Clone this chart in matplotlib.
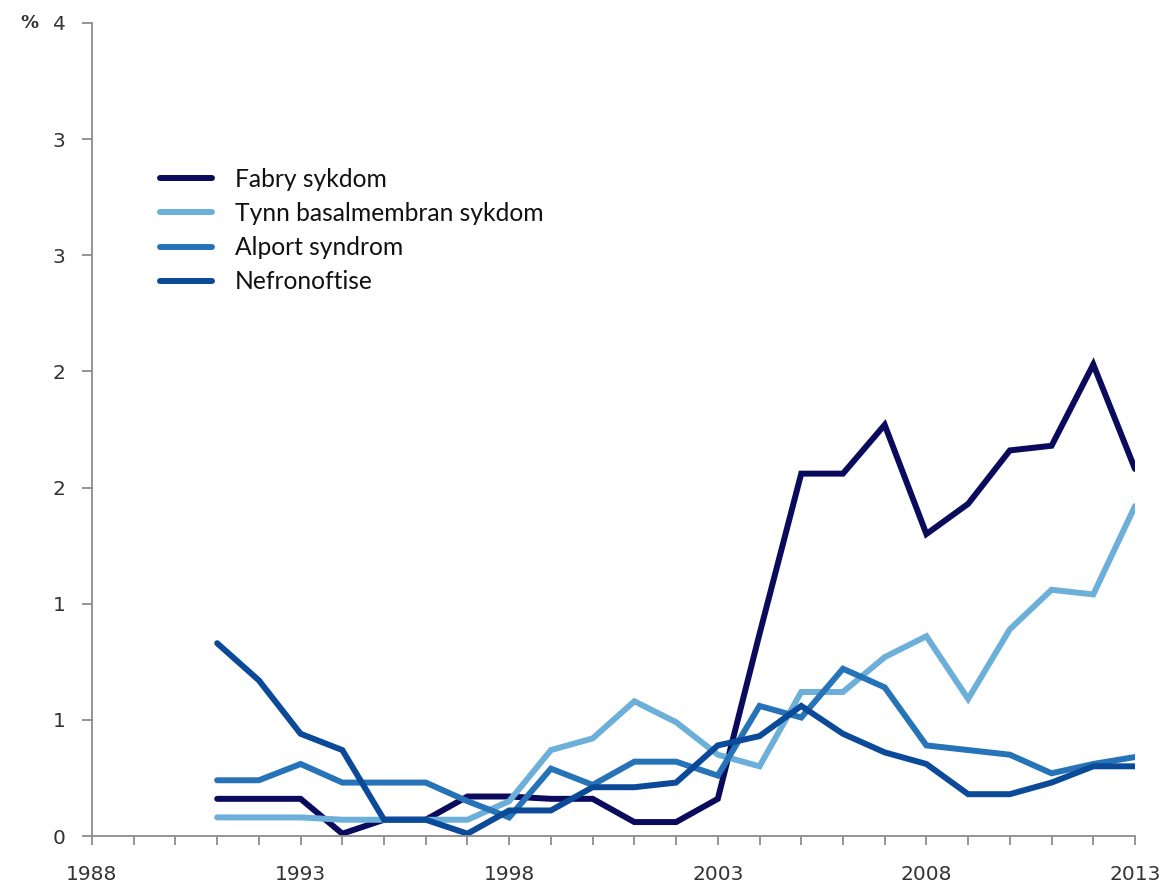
import matplotlib
matplotlib.use("Agg")
import matplotlib.pyplot as plt
from matplotlib.ticker import MultipleLocator

years = list(range(1991, 2014))

series_names = ["Fabry sykdom", "Tynn basalmembran sykdom", "Alport syndrom", "Nefronoftise"]

fabry = [0.16, 0.16, 0.16, 0.01, 0.07, 0.07, 0.17, 0.17, 0.16, 0.16, 0.06, 0.06,
         0.16, 0.87, 1.56, 1.56, 1.77, 1.30, 1.43, 1.66, 1.68, 2.03, 1.58]
tynn = [0.08, 0.08, 0.08, 0.07, 0.07, 0.07, 0.07, 0.15, 0.37, 0.42, 0.58, 0.49,
        0.35, 0.30, 0.62, 0.62, 0.77, 0.86, 0.59, 0.89, 1.06, 1.04, 1.42]
alport = [0.24, 0.24, 0.31, 0.23, 0.23, 0.23, 0.15, 0.08, 0.29, 0.22, 0.32, 0.32,
          0.26, 0.56, 0.51, 0.72, 0.64, 0.39, 0.37, 0.35, 0.27, 0.31, 0.34]
nefro = [0.83, 0.67, 0.44, 0.37, 0.07, 0.07, 0.01, 0.11, 0.11, 0.21, 0.21, 0.23,
         0.39, 0.43, 0.56, 0.44, 0.36, 0.31, 0.18, 0.18, 0.23, 0.30, 0.30]

colors = ["#0b0b5e", "#6cb0d9", "#2673b8", "#0b4a98"]

y_ticks = [0, 0.5, 1.0, 1.5, 2.0, 2.5, 3.0, 3.5]
y_ticklabels = ["0", "1", "1", "2", "2", "3", "3", "4"]
x_ticks = [1988, 1993, 1998, 2003, 2008, 2013]
x_ticklabels = ["1988", "1993", "1998", "2003", "2008", "2013"]

W, H = 1172, 886
fig = plt.figure(figsize=(W / 100, H / 100), dpi=100)
ax = fig.add_axes([92 / W, 1 - 836 / H, (1135 - 92) / W, (836 - 23) / H])

for vals, name, c in zip([fabry, tynn, alport, nefro], series_names, colors):
    ax.plot(years, vals, color=c, lw=4.3, label=name,
            solid_capstyle="round", solid_joinstyle="miter")

ax.set_xlim(1988, 2013)
ax.set_ylim(0, 3.5)

axis_col = "#8c8c8c"
for s in ["top", "right"]:
    ax.spines[s].set_visible(False)
for s in ["left", "bottom"]:
    ax.spines[s].set_color(axis_col)
    ax.spines[s].set_linewidth(1.3)

ax.set_yticks(y_ticks)
ax.set_yticklabels(y_ticklabels)
ax.set_xticks(x_ticks)
ax.set_xticklabels(x_ticklabels)
ax.xaxis.set_minor_locator(MultipleLocator(1))
ax.tick_params(axis="both", which="both", direction="out", color=axis_col, width=1.3)
ax.tick_params(axis="x", which="both", length=6.5)
ax.tick_params(axis="x", which="major", pad=14.5)
ax.tick_params(axis="y", which="major", length=7, pad=12)
for lbl in ax.get_xticklabels() + ax.get_yticklabels():
    lbl.set_fontsize(14.5)
    lbl.set_color("#333333")
    lbl.set_family("DejaVu Sans")

fig.text(20 / W, 1 - 23 / H, "%", fontsize=13, fontweight="bold", color="#333333",
         ha="left", va="center", family="DejaVu Sans")

leg = ax.legend(loc="upper left", bbox_to_anchor=(160 / W, 1 - 168 / H),
                bbox_transform=fig.transFigure, frameon=False,
                prop={"family": "Lato", "size": 17.7},
                handlelength=2.1, handletextpad=0.95, labelspacing=0.45,
                borderpad=0, borderaxespad=0)
for t in leg.get_texts():
    t.set_color("#111111")

fig.savefig("out.png", dpi=100)
